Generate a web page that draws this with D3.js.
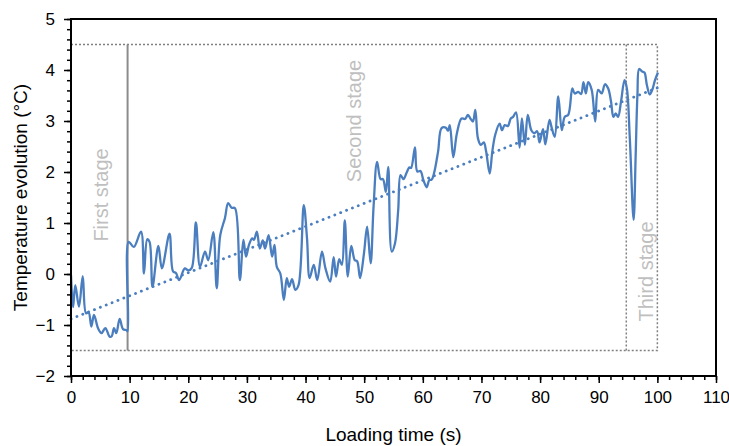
<!DOCTYPE html>
<html>
<head>
<meta charset="utf-8">
<script src="https://cdn.jsdelivr.net/npm/d3@7"></script>
<style>
body { margin: 0; background: #fff; }
text { font-family: "Liberation Sans", Arial, sans-serif; }
</style>
</head>
<body>
<div id="chart"></div>
<script>
// readings
var times = [0, 0.35, 0.73, 1.36, 2.0, 2.56, 3.0, 3.47, 3.92, 4.6, 5.2, 5.85, 6.6, 6.95, 7.33, 7.73, 8.3, 8.87, 9.44, 9.65,
    9.83, 10.7, 11.94, 12.45, 13.0, 13.4, 13.9, 14.9, 15.5, 16.8, 17.4, 17.9, 18.45, 19.4, 20.0, 20.6, 21.3, 22.0, 22.85, 23.4,
    24.27, 24.85, 25.45, 26.26, 26.8, 27.4, 27.97, 28.8, 29.4, 29.85, 30.35, 30.9, 31.2, 31.7, 32.2, 32.7, 33.1, 33.7, 34.3, 34.7,
    35.1, 35.7, 36.3, 36.8, 37.2, 37.7, 38.25, 38.8, 39.7, 40.25, 40.7, 41.4, 42.0, 42.8, 43.4, 44.2, 44.8, 45.2, 45.75, 46.2,
    46.7, 47.2, 47.8, 48.4, 48.8, 49.3, 49.97, 50.5, 51.1, 51.6, 52.2, 52.8, 53.2, 53.7, 54.1, 54.7, 55.25, 55.8, 56.2, 56.7,
    57.25, 57.7, 58.0, 58.66, 59.06, 59.6, 60.1, 60.66, 61.1, 61.5, 61.9, 62.6, 63.2, 63.9, 64.3, 64.6, 65.2, 65.8, 66.6, 67.2,
    67.7, 68.1, 68.55, 68.95, 69.4, 69.9, 70.4, 70.8, 71.4, 71.85, 72.35, 73.1, 73.5, 73.96, 74.5, 75.0, 75.4, 75.9, 76.5, 76.9,
    77.4, 77.9, 78.5, 79.0, 79.5, 79.9, 80.5, 80.9, 81.6, 82.0, 82.5, 83.1, 83.7, 84.2, 84.8, 85.5, 85.9, 86.5, 87.0, 87.4,
    87.8, 88.2, 88.8, 89.4, 89.9, 90.5, 91.06, 91.6, 92.1, 92.5, 92.9, 93.3, 93.8, 94.4, 94.8, 95.3, 95.95, 96.3, 96.6, 96.9,
    97.4, 97.8, 98.2, 98.7, 99.1, 99.6, 100.1];
var temps = [-0.02, -0.65, -0.22, -0.64, -0.04, -0.77, -0.75, -1.03, -0.80, -1.06, -1.16, -1.06, -1.23, -1.22, -1.06, -1.16, -0.88, -1.08, -1.10, -1.12,
    0.63, 0.53, 0.83, 0.01, 0.68, 0.63, -0.25, 0.55, 0.11, 0.79, 0.05, 0.02, -0.12, 0.11, 0.07, 0.12, 1.01, 0.14, 0.44, 0.27,
    0.82, -0.28, 0.76, 1.10, 1.39, 1.30, 1.29, -0.12, 0.67, 0.34, 0.57, 0.70, 0.67, 0.83, 0.50, 0.66, 0.50, 0.76, 0.34, 0.57,
    0.14, 0.01, -0.51, -0.08, -0.25, -0.10, -0.31, -0.22, 1.35, 0.70, -0.08, 0.18, -0.12, 0.44, 0.11, -0.15, 0.33, -0.05, 0.29, 0.18,
    1.05, -0.05, 0.55, 0.27, 0.25, -0.08, 0.41, 0.93, 0.21, 1.32, 2.20, 1.86, 1.86, 1.61, 2.10, 0.44, 0.60, 1.25, 1.94, 1.86,
    1.99, 2.09, 2.08, 2.48, 2.01, 2.02, 1.84, 1.70, 1.84, 1.85, 1.97, 2.40, 2.86, 2.87, 2.81, 2.92, 2.29, 2.75, 3.05, 3.04,
    3.12, 3.05, 2.99, 3.22, 2.66, 2.53, 2.58, 2.40, 1.97, 2.40, 2.73, 2.95, 2.82, 2.92, 2.90, 3.05, 3.08, 3.17, 2.48, 3.05,
    2.53, 3.12, 2.82, 2.76, 2.80, 2.58, 2.84, 2.54, 3.02, 2.86, 2.69, 3.48, 2.82, 3.08, 3.12, 3.64, 3.54, 3.57, 3.53, 3.76,
    3.54, 3.76, 3.61, 2.99, 3.61, 3.54, 3.72, 3.64, 3.38, 3.08, 3.15, 3.08, 3.38, 3.80, 3.64, 2.66, 1.06, 2.33, 3.51, 4.02,
    3.97, 3.95, 3.71, 3.52, 3.60, 3.80, 3.95];

var trendX = [0, 100];
var trendY = [-0.88, 3.65];

var stageBox = { x0: 0, x1: 100, y0: -1.5, y1: 4.5 };
var firstStageEnd = 9.65;
var thirdStageStart = 94.7;

var stageNames = ["First stage", "Second stage", "Third stage"];
var stageLabelX = [5.1, 48.3, 98.1];
var stageLabelY = [1.55, 3.0, 0.05];

var xTicks = d3.range(0, 111, 10);
var yTicks = d3.range(-2, 6, 1);
var xMinor = d3.range(0, 111, 2);
var yMinor = d3.range(-2, 5.01, 0.2).map(function (d) { return Math.round(d * 10) / 10; });

const margin = { top: 19, bottom: 70, left: 71, right: 13 };
const svg = d3.select("#chart").append("svg").attr("width", 729).attr("height", 446);
const width = 729 - margin.left - margin.right;
const height = 446 - margin.top - margin.bottom;
const canvas = svg.append("g").attr("transform", `translate(${margin.left},${margin.top})`);

var xScale = d3.scaleLinear().domain([0, 110]).range([0, width]);
var yScale = d3.scaleLinear().domain([-2, 5]).range([height, 0]);

var data = times.map(function (t, i) { return { t: t, v: temps[i] }; });
var trend = trendX.map(function (t, i) { return { t: t, v: trendY[i] }; });

// stage boxes
canvas.append("rect")
    .attr("x", xScale(stageBox.x0))
    .attr("y", yScale(stageBox.y1))
    .attr("width", xScale(stageBox.x1) - xScale(stageBox.x0))
    .attr("height", yScale(stageBox.y0) - yScale(stageBox.y1))
    .attr("fill", "none")
    .attr("stroke", "#808080")
    .attr("stroke-width", 1.5)
    .attr("stroke-dasharray", "2,2");

canvas.append("line")
    .attr("x1", xScale(thirdStageStart)).attr("x2", xScale(thirdStageStart))
    .attr("y1", yScale(stageBox.y1)).attr("y2", yScale(stageBox.y0))
    .attr("stroke", "#808080")
    .attr("stroke-width", 1.5)
    .attr("stroke-dasharray", "2,2");

canvas.append("line")
    .attr("x1", xScale(firstStageEnd)).attr("x2", xScale(firstStageEnd))
    .attr("y1", yScale(stageBox.y1)).attr("y2", yScale(stageBox.y0))
    .attr("stroke", "#8c8c8c")
    .attr("stroke-width", 2);

canvas.selectAll(".stage-label")
    .data(stageNames)
    .enter()
    .append("text")
    .attr("class", "stage-label")
    .attr("transform", function (d, i) {
        return "translate(" + xScale(stageLabelX[i]) + "," + yScale(stageLabelY[i]) + ") rotate(-90)";
    })
    .attr("text-anchor", "middle")
    .attr("dy", "0.35em")
    .style("font-size", "20px")
    .style("fill", "#bfbfbf")
    .text(function (d) { return d; });

// trend line
var line = d3.line()
    .x(function (d) { return xScale(d.t); })
    .y(function (d) { return yScale(d.v); });

canvas.append("path")
    .datum(trend)
    .attr("d", line)
    .attr("fill", "none")
    .attr("stroke", "#4a7ebf")
    .attr("stroke-width", 2.8)
    .attr("stroke-linecap", "round")
    .attr("stroke-dasharray", "0.1,6.2");

// temperature curve
canvas.append("path")
    .datum(data)
    .attr("d", line.curve(d3.curveCatmullRom.alpha(0.5)))
    .attr("fill", "none")
    .attr("stroke", "#4a7ebf")
    .attr("stroke-width", 2.3)
    .attr("stroke-linejoin", "round");

// frame
canvas.append("rect")
    .attr("width", width).attr("height", height)
    .attr("fill", "none")
    .attr("stroke", "#000")
    .attr("stroke-width", 2);

// axes
canvas.append("g")
    .attr("transform", "translate(0," + height + ")")
    .call(d3.axisBottom(xScale).tickValues(xMinor).tickSize(4).tickFormat(""));
canvas.append("g")
    .attr("class", "x-axis")
    .attr("transform", "translate(0," + height + ")")
    .call(d3.axisBottom(xScale).tickValues(xTicks).tickSize(7).tickPadding(8).tickFormat(d3.format("d")));

canvas.append("g")
    .call(d3.axisLeft(yScale).tickValues(yMinor).tickSize(4).tickFormat(""));
canvas.append("g")
    .attr("class", "y-axis")
    .call(d3.axisLeft(yScale).tickValues(yTicks).tickSize(7).tickPadding(9).tickFormat(d3.format("d")));

canvas.selectAll(".domain").remove();
canvas.selectAll(".tick line").attr("stroke", "#000").attr("stroke-width", 1.5);
canvas.selectAll(".tick text").style("font-size", "17px").style("fill", "#000");

svg.append("text")
    .attr("x", margin.left + xScale(55))
    .attr("y", 441)
    .attr("text-anchor", "middle")
    .style("font-size", "19px")
    .text("Loading time (s)");

svg.append("text")
    .attr("transform", "translate(27," + (margin.top + yScale(1.5)) + ") rotate(-90)")
    .attr("text-anchor", "middle")
    .style("font-size", "19px")
    .text("Temperature evolution (°C)");
</script>
</body>
</html>
